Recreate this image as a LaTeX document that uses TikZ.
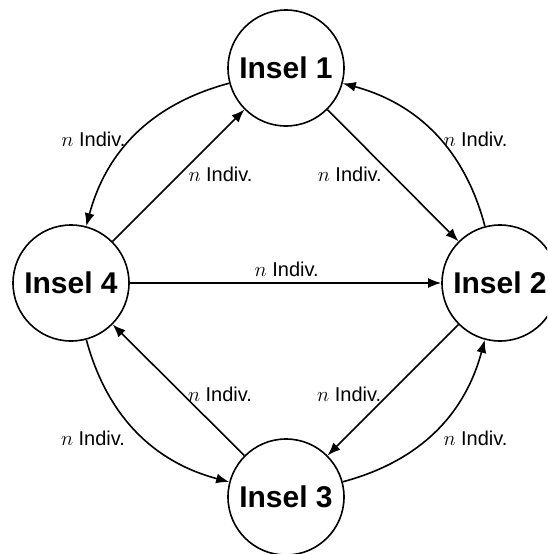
\documentclass[tikz,border=0pt]{standalone}
\usepackage{fontspec}
\setmainfont{Liberation Sans}
\usetikzlibrary{arrows.meta}
\begin{document}
\begin{tikzpicture}[x=1pt,y=-1pt,
  island/.style={circle,draw,line width=1.6pt,minimum size=116pt,inner sep=0pt,
    font=\fontsize{30}{34}\selectfont\bfseries},
  lbl/.style={font=\fontsize{20}{24}\selectfont,inner sep=0pt,anchor=base},
  arr/.style={line width=1.6pt,-{Latex[length=13pt,width=10pt]}}]
\useasboundingbox (0,0) rectangle (547,554);
\clip (0,0) rectangle (547,554);
\node[island] (i1) at (286,68) {Insel 1};
\node[island] (i2) at (500,283) {Insel 2};
\node[island] (i3) at (286,497) {Insel 3};
\node[island] (i4) at (71,283) {Insel 4};
% curved edges
\draw[arr] (i1) to[bend right=30] (i4);
\draw[arr] (i2) to[bend right=30] (i1);
\draw[arr] (i3) to[bend right=30] (i2);
\draw[arr] (i4) to[bend right=30] (i3);
% straight edges
\draw[arr] (i4) -- (i1);
\draw[arr] (i1) -- (i2);
\draw[arr] (i2) -- (i3);
\draw[arr] (i3) -- (i4);
\draw[arr] (i4) -- (i2);
% labels
\node[lbl] (l1) at (93.4,146.7) {$n$ Indiv.};
\node[lbl] (l2) at (220.5,181.7) {$n$ Indiv.};
\node[lbl] (l3) at (349.8,181.7) {$n$ Indiv.};
\node[lbl] (l4) at (475.5,146.7) {$n$ Indiv.};
\node[lbl] (l5) at (286.7,276) {$n$ Indiv.};
\node[lbl] (l6) at (220,401.7) {$n$ Indiv.};
\node[lbl] (l7) at (349.2,401.7) {$n$ Indiv.};
\node[lbl] (l8) at (93,445.7) {$n$ Indiv.};
\node[lbl] (l9) at (475.5,445.7) {$n$ Indiv.};
\end{tikzpicture}
\end{document}
